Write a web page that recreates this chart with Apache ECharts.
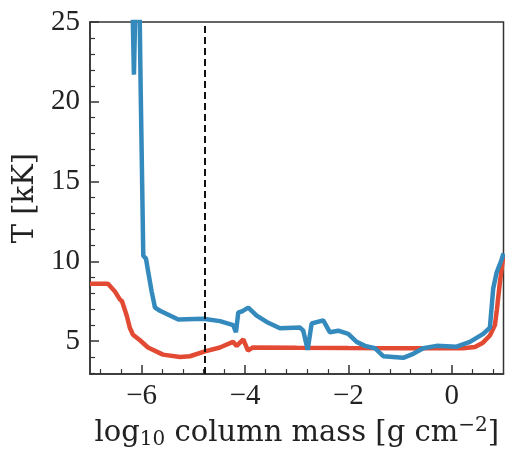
<!DOCTYPE html>
<html>
<head>
<meta charset="utf-8">
<script src="https://cdn.jsdelivr.net/npm/echarts@6/dist/echarts.min.js"></script>
<style>
    html, body { margin: 0; padding: 0; background: #fff; }
    #chart { width: 505px; height: 455px; }
</style>
</head>
<body>
<div id="chart"></div>
<script>
// red curve
const redX = [-7.0, -6.652, -6.516, -6.42, -6.381, -6.29, -6.226, -6.168, -6.033, -5.878,
    -5.588, -5.259, -5.066, -4.776, -4.486, -4.234, -4.162, -4.035, -3.944, -3.847,
    -3.0, -2.0, -1.0, 0.0, 0.215, 0.447, 0.602, 0.737, 0.834, 0.873, 0.931, 1.0];
const redT = [8.6, 8.6, 8.1, 7.6, 7.5, 6.6, 5.8, 5.4, 5.05, 4.6,
    4.15, 4.0, 4.05, 4.35, 4.6, 4.95, 4.7, 5.1, 4.4, 4.6,
    4.58, 4.56, 4.55, 4.55, 4.55, 4.63, 4.9, 5.35, 6.0, 7.0, 8.7, 10.4];

// blue curve (values above 25 run off the top)
const blueX = [-6.19, -6.15, -6.11, -6.05, -6.02, -5.969, -5.917, -5.872, -5.807, -5.743,
    -5.646, -5.292, -4.808, -4.486, -4.228, -4.176, -4.131, -4.066, -3.938, -3.776,
    -3.582, -3.325, -2.938, -2.874, -2.789, -2.712, -2.487, -2.358, -2.197, -2.004,
    -1.841, -1.681, -1.487, -1.327, -1.133, -0.94, -0.747, -0.553, -0.294, 0.093,
    0.35, 0.607, 0.737, 0.801, 0.867, 0.963, 1.0];
const blueT = [28, 21.7, 28, 28, 20.9, 10.35, 10.17, 9.3, 8.1, 7.1,
    6.9, 6.35, 6.4, 6.25, 6.0, 5.55, 6.8, 6.85, 7.1, 6.6,
    6.2, 5.8, 5.85, 5.65, 4.45, 6.1, 6.3, 5.55, 5.65, 5.45,
    4.95, 4.7, 4.55, 4.05, 4.0, 3.95, 4.2, 4.55, 4.7, 4.65,
    4.95, 5.45, 5.85, 8.3, 9.3, 10.1, 10.5];

const dashX = -4.78;

const xTicks = [-6, -4, -2, 0];
const xMinor = [-6.8, -6.4, -5.6, -5.2, -4.8, -4.4, -3.6, -3.2, -2.8, -2.4,
    -1.6, -1.2, -0.8, -0.4, 0.4, 0.8];
const yTicks = [5, 10, 15, 20, 25];
const yMinor = [3, 4, 6, 7, 8, 9, 11, 12, 13, 14, 16, 17, 18, 19, 21, 22, 23, 24];

const tickFont = 'Liberation Serif';
const nameFont = 'DejaVu Serif';
const axisColor = '#333';
const textColor = '#222';

const pairs = (xs, ys) => xs.map((x, i) => [x, ys[i]]);

let myChart = echarts.init(document.getElementById('chart'));
let option = {
    animation: false,
    grid: {
        show: true,
        left: 90,
        right: 1.5,
        top: 22,
        bottom: 70,
        borderColor: axisColor,
        borderWidth: 1.5,
        backgroundColor: 'transparent'
    },
    xAxis: [{
        type: 'value',
        min: -7,
        max: 1,
        axisLine: { show: true, onZero: false, lineStyle: { color: axisColor, width: 1.5 } },
        axisTick: { show: true, inside: true, length: 9, customValues: xTicks, lineStyle: { color: axisColor, width: 1.5 } },
        splitLine: { show: false },
        axisLabel: {
            margin: 8,
            color: textColor,
            fontFamily: tickFont,
            fontSize: 29,
            customValues: xTicks,
            formatter: (v) => v < 0 ? '\u2212' + (-v) : '' + v
        },
        name: '{n|log}{s|10}{n| column mass [g cm}{p|\u22122}{n|]}',
        nameLocation: 'middle',
        nameGap: 38,
        nameTextStyle: {
            color: textColor,
            fontFamily: nameFont,
            fontSize: 29,
            rich: {
                n: { fontFamily: nameFont, fontSize: 29, color: textColor },
                s: { fontFamily: nameFont, fontSize: 20, color: textColor, verticalAlign: 'bottom', padding: [14, 0, 0, 0] },
                p: { fontFamily: nameFont, fontSize: 20, color: textColor, verticalAlign: 'top', padding: [0, 0, 12, 0] }
            }
        }
    }, {
        // minor ticks
        type: 'value',
        position: 'bottom',
        min: -7,
        max: 1,
        axisLine: { show: false, onZero: false },
        axisTick: { show: true, inside: true, length: 5, customValues: xMinor, lineStyle: { color: axisColor, width: 1.2 } },
        axisLabel: { show: false },
        splitLine: { show: false }
    }],
    yAxis: [{
        type: 'value',
        min: 2.93,
        max: 25,
        axisLine: { show: true, onZero: false, lineStyle: { color: axisColor, width: 1.5 } },
        axisTick: { show: true, inside: true, length: 9, customValues: yTicks, lineStyle: { color: axisColor, width: 1.5 } },
        splitLine: { show: false },
        axisLabel: {
            margin: 10,
            color: textColor,
            fontFamily: tickFont,
            fontSize: 29,
            customValues: yTicks
        },
        name: 'T [kK]',
        nameLocation: 'middle',
        nameGap: 35,
        nameTextStyle: { color: textColor, fontFamily: nameFont, fontSize: 29 }
    }, {
        // minor ticks
        type: 'value',
        position: 'left',
        min: 2.93,
        max: 25,
        axisLine: { show: false, onZero: false },
        axisTick: { show: true, inside: true, length: 5, customValues: yMinor, lineStyle: { color: axisColor, width: 1.2 } },
        axisLabel: { show: false },
        splitLine: { show: false }
    }],
    series: [{
        name: 'red',
        type: 'line',
        data: pairs(redX, redT),
        showSymbol: false,
        clip: true,
        lineStyle: { color: '#E24A33', width: 4.5 },
        itemStyle: { color: '#E24A33' },
        markLine: {
            silent: true,
            symbol: 'none',
            label: { show: false },
            lineStyle: { color: '#111', type: [7, 4], width: 2 },
            data: [{ xAxis: dashX }]
        },
        z: 2
    }, {
        name: 'blue',
        type: 'line',
        data: pairs(blueX, blueT),
        showSymbol: false,
        clip: true,
        lineStyle: { color: '#348ABD', width: 4.5 },
        itemStyle: { color: '#348ABD' },
        z: 3
    }]
};
myChart.setOption(option);
window.addEventListener('resize', () => {
    myChart.resize();
});
</script>
</body>
</html>
